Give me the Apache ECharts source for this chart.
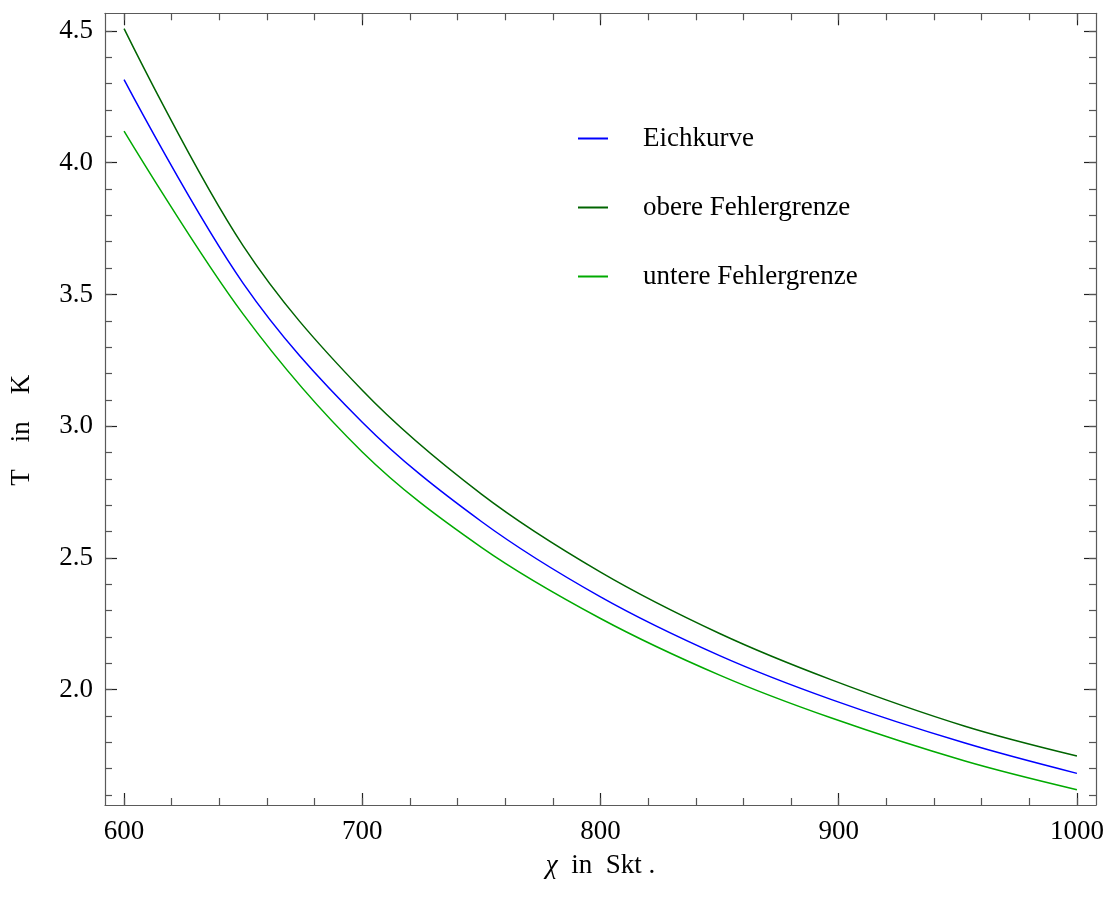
<!DOCTYPE html>
<html>
<head>
<meta charset="utf-8">
<style>
  html, body { margin: 0; padding: 0; background: #ffffff; }
  #chart { width: 1110px; height: 897px; }
</style>
<script src="https://cdn.jsdelivr.net/npm/echarts@6/dist/echarts.min.js"></script>
</head>
<body>
<div id="chart"></div>
<script>
// ---- data ----
const chi = [600, 650, 700, 750, 800, 850, 897, 953, 1000];
const eichkurve = [4.315, 3.542, 3.015, 2.638, 2.352, 2.129, 1.962, 1.797, 1.682];
const obereGrenze = [4.509, 3.684, 3.136, 2.742, 2.446, 2.213, 2.037, 1.861, 1.748];
const untereGrenze = [4.120, 3.425, 2.902, 2.540, 2.270, 2.055, 1.892, 1.729, 1.620];

const seriesNames = ['Eichkurve', 'obere Fehlergrenze', 'untere Fehlergrenze'];
const xTickLabels = [600, 700, 800, 900, 1000];
const yTickLabels = [2.0, 2.5, 3.0, 3.5, 4.0, 4.5];
const xRange = [592, 1008];
const yRange = [1.562, 4.567];

function minorValues(from, to, step) {
  const out = [];
  const n = Math.round((to - from) / step);
  for (let i = 0; i <= n; i++) out.push(+(from + i * step).toFixed(4));
  return out;
}
const xMinor = minorValues(600, 1000, 20);
const yMinor = minorValues(1.6, 4.5, 0.1);

const pairs = (ys) => chi.map((x, i) => [x, ys[i]]);

const FONT = '"Liberation Serif", "DejaVu Serif", serif';
const frameColor = '#5a5a5a';
const tickColor = '#222';

function xAxisDef(position, major, withLabels) {
  return {
    type: 'value', position: position, min: xRange[0], max: xRange[1],
    axisLine: { show: major, onZero: false, lineStyle: { color: frameColor, width: 1.2 } },
    axisTick: { show: true, inside: true, length: major ? 12 : 7,
      customValues: major ? xTickLabels : xMinor,
      lineStyle: { color: major ? tickColor : '#555', width: 1.2 } },
    axisLabel: withLabels ? { show: true, customValues: xTickLabels, margin: 13,
      fontFamily: FONT, fontSize: 27, color: '#000',
      formatter: (v) => String(Math.round(v)) } : { show: false },
    splitLine: { show: false },
    name: withLabels ? '{i|χ}  in  Skt .' : '',
    nameLocation: 'middle', nameGap: 47,
    nameTextStyle: { fontFamily: FONT, fontSize: 27, color: '#000',
      rich: { i: { fontFamily: FONT, fontSize: 27, fontStyle: 'italic', color: '#000' } } }
  };
}
function yAxisDef(position, major, withLabels) {
  return {
    type: 'value', position: position, min: yRange[0], max: yRange[1],
    axisLine: { show: major, onZero: false, lineStyle: { color: frameColor, width: 1.2 } },
    axisTick: { show: true, inside: true, length: major ? 12 : 7,
      customValues: major ? yTickLabels : yMinor,
      lineStyle: { color: major ? tickColor : '#555', width: 1.2 } },
    axisLabel: withLabels ? { show: true, customValues: yTickLabels, margin: 12,
      fontFamily: FONT, fontSize: 27, color: '#000',
      formatter: (v) => Number(v).toFixed(1) } : { show: false },
    splitLine: { show: false },
    name: withLabels ? 'T    in    K' : '',
    nameLocation: 'middle', nameGap: 70, nameRotate: 90,
    nameTextStyle: { fontFamily: FONT, fontSize: 27, color: '#000', padding: [0, 42, 0, 0] }
  };
}

const chart = echarts.init(document.getElementById('chart'), null, { renderer: 'canvas' });
chart.setOption({
  backgroundColor: '#ffffff',
  animation: false,
  grid: { left: 104.7, top: 13.3, right: 14, bottom: 92, containLabel: false },
  xAxis: [
    xAxisDef('bottom', true, true),
    xAxisDef('bottom', false, false),
    xAxisDef('top', true, false),
    xAxisDef('top', false, false)
  ],
  yAxis: [
    yAxisDef('left', true, true),
    yAxisDef('left', false, false),
    yAxisDef('right', true, false),
    yAxisDef('right', false, false)
  ],
  legend: {
    orient: 'vertical', left: 573, top: 120,
    itemWidth: 30, itemHeight: 28, itemGap: 42,
    icon: 'path://M0,13 L30,13 L30,15 L0,15 Z',
    textStyle: { fontFamily: FONT, fontSize: 27, color: '#000', padding: [0, 0, 0, 30] },
    data: seriesNames
  },
  series: [
    { name: seriesNames[0], type: 'line', data: pairs(eichkurve), smooth: 0.35,
      showSymbol: false, symbol: 'none', color: '#0000ff',
      lineStyle: { color: '#0000ff', width: 1.5 } },
    { name: seriesNames[1], type: 'line', data: pairs(obereGrenze), smooth: 0.35,
      showSymbol: false, symbol: 'none', color: '#006400',
      lineStyle: { color: '#006400', width: 1.5 } },
    { name: seriesNames[2], type: 'line', data: pairs(untereGrenze), smooth: 0.35,
      showSymbol: false, symbol: 'none', color: '#00aa00',
      lineStyle: { color: '#00aa00', width: 1.5 } }
  ]
});
</script>
</body>
</html>
